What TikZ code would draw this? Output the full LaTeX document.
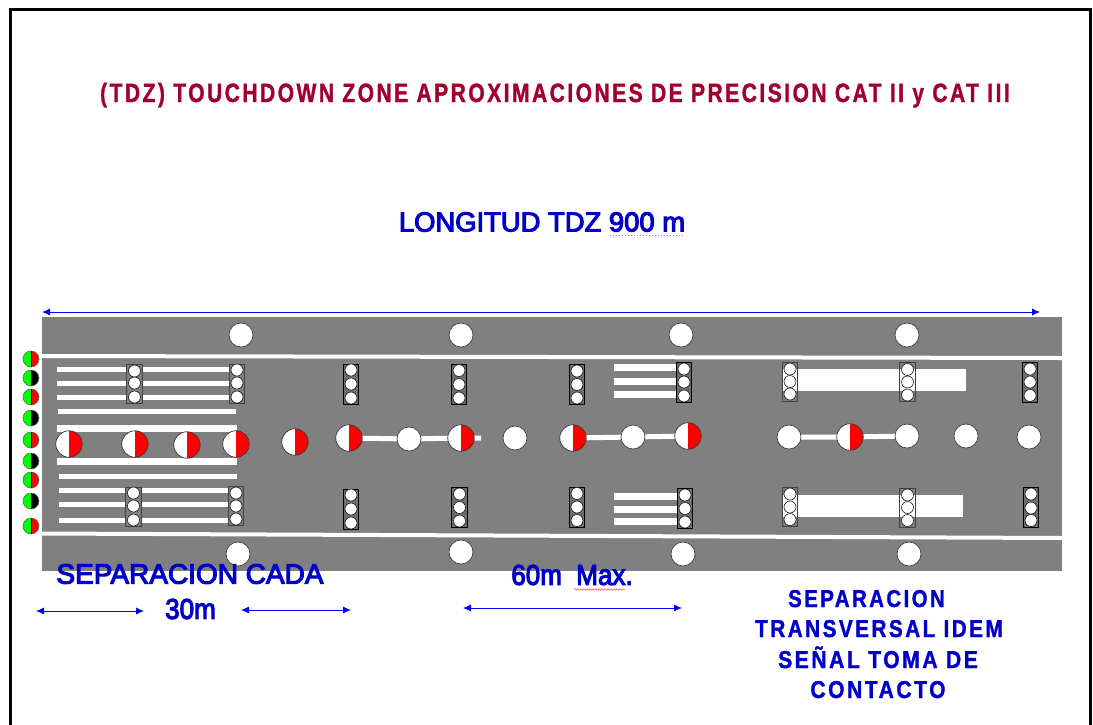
\documentclass[tikz,border=0pt]{standalone}
\usepackage{fontspec}
\setmainfont{Liberation Sans}
\newfontfamily\semib[FakeBold=4]{Liberation Sans}
\newfontfamily\titlef[LetterSpace=12,FakeBold=1.5]{Liberation Sans Bold}
\newfontfamily\sepf[LetterSpace=12,FakeBold=1.5]{Liberation Sans Bold}
\usetikzlibrary{arrows.meta,decorations.pathmorphing}
\definecolor{tdzblue}{HTML}{0000C8}
\definecolor{tdzred}{HTML}{A00030}
\definecolor{rwy}{HTML}{808080}
\tikzset{
  x=1pt,y=-1pt,
  bigw/.style={circle,draw=black!75,line width=.7pt,fill=white,minimum size=24pt,inner sep=0pt},
  halfr/.style={circle,draw=black!80,line width=.7pt,fill=white,minimum size=26.5pt,inner sep=0pt,
    path picture={\fill[red] (path picture bounding box.north) rectangle (path picture bounding box.south east);}},
  leftlamp/.style={circle,draw=black!60,line width=.6pt,minimum size=16pt,inner sep=0pt,fill=green,
    path picture={\fill[#1] (path picture bounding box.north) rectangle (path picture bounding box.south east);
      \draw[black,line width=.5pt] (path picture bounding box.north) -- (path picture bounding box.south);}},
  lamp/.style={circle,draw=black!90,line width=.6pt,fill=white,minimum size=12pt,inner sep=0pt},
  lampbox/.style={draw=black,fill=rwy!85!black,line width=.9pt,minimum width=15.5pt,minimum height=40pt,inner sep=0pt},
  softbox/.style={draw=black!75,fill=rwy,line width=.9pt,minimum width=15.5pt,minimum height=39pt,inner sep=0pt},
  openbox/.style={draw=black!75,line width=.9pt,minimum width=15.5pt,minimum height=39pt,inner sep=0pt},
  stripe/.style={draw=white,line width=#1},
  stripe/.default=5pt,
  dim/.style={draw=blue,line width=.8pt,{Latex[length=8pt,width=7pt]}-{Latex[length=8pt,width=7pt]}},
  lbl/.style={text=tdzblue,inner sep=0pt,anchor=center},
  sepl/.style={text=tdzblue,inner sep=0pt,anchor=base},
}
% triple of lamps: #1 style, #2 name, #3 x, #4 #5 #6 lamp y
\newcommand{\lampset}[6]{%
  \node[#1] (#2) at (#3,{(#4+#6)/2}) {};
  \node[lamp] (#2a) at (#3,#4) {};
  \node[lamp] (#2b) at (#3,#5) {};
  \node[lamp] (#2c) at (#3,#6) {};
}
\begin{document}
\begin{tikzpicture}
\useasboundingbox (0,0) rectangle (1093,724);
\fill[white] (0,0) rectangle (1093,724);
% frame
\draw[black,line width=3pt] (10.5,726) -- (10.5,9.5) -- (1090,9.5) -- (1090,726);
% runway
\fill[rwy] (42,317) rectangle (1062,571);
\draw[white,line width=4pt] (42,356) -- (1062,358);
\draw[white,line width=4pt] (42,533.5) -- (1062,538);
% stripes (threshold)
\foreach \y/\a/\b in {369.5/57/236,383/57/236,397/57/236,411.5/58/236,476/59/237,490/59/237,504/59/237,520/59/237}
  \draw[stripe] (\a,\y) -- (\b,\y);
\foreach \y in {428,461}
  \draw[stripe=7pt] (57,\y) -- (237,\y);
\foreach \y in {367,381,394,496,509,521}
  \draw[stripe=7pt] (614,\y) -- (680,\y);
\fill[white] (783,369) rectangle (966,391);
\fill[white] (783,495) rectangle (963,517);
% edge lights
\foreach \n/\x/\y in {ta/241/335,tb/461/335,tc/681/335,td/907/335,ba/238/554,bb/461/552,bc/683/554,bd/909/554}
  \node[bigw] (\n) at (\x,\y) {};
% center line lights
\foreach \n/\x/\y in {c1/69/444,c2/135/444,c3/187/445,c4/236/444,c5/295/442,c6/349/438,c7/461/438,c8/573/438,c9/688/436,c10/850/437}
  \coordinate (\n) at (\x,\y);
\foreach \n/\x/\y in {w1/409/439,w2/515/438,w3/633/437,w4/789/437,w5/907/436,w6/966/436,w7/1029/437}
  \coordinate (\n) at (\x,\y);
\coordinate (barend) at (481,438);
\draw[stripe] (c6) -- (w1) -- (c7) -- (barend);
\draw[stripe] (c8) -- (w3) -- (c9);
\draw[stripe] (w4) -- (c10) -- (w5);
\foreach \n in {c1,c2,c3,c4,c5,c6,c7,c8,c9,c10}
  \node[halfr] at (\n) {};
\foreach \n in {w1,w2,w3,w4,w5,w6,w7}
  \node[bigw] at (\n) {};
% threshold lamps
\foreach \n/\y/\c in {l1/359/red,l2/378/black,l3/397/red,l4/418/black,l5/440/red,l6/461/black,l7/480/red,l8/501/black,l9/526/red}
  \node[leftlamp=\c] (\n) at (31,\y) {};
% lamp triples
\lampset{softbox}{ua}{134.5}{371}{383}{397}
\lampset{softbox}{ub}{237}{370}{383}{397}
\lampset{lampbox}{uc}{351}{370}{384}{398}
\lampset{lampbox}{ud}{459}{370.5}{384.5}{398}
\lampset{lampbox}{ue}{577}{371}{384.5}{398}
\lampset{lampbox}{uf}{684}{369}{382}{396}
\lampset{openbox}{ug}{790}{369}{381.5}{394}
\lampset{openbox}{uh}{907.5}{369.5}{382}{395}
\lampset{lampbox}{ui}{1030}{369}{382}{395.5}
\lampset{softbox}{da}{133.5}{493}{506}{520}
\lampset{softbox}{db}{236}{493}{506}{519}
\lampset{lampbox}{dc}{351}{495}{509}{523}
\lampset{lampbox}{dd}{459.5}{494}{507.5}{521}
\lampset{lampbox}{de}{577}{493.5}{507}{520.5}
\lampset{lampbox}{df}{685}{495}{508.5}{522}
\lampset{openbox}{dg}{790}{494}{507}{519.5}
\lampset{openbox}{dh}{907.5}{495}{507.5}{520.5}
\lampset{lampbox}{di}{1031}{494}{508}{520.5}
% texts
\node[inner sep=0pt,text=tdzred,anchor=base] (title) at (555,102) {\scalebox{.912}[1.15]{\titlef\fontsize{23}{26}\selectfont (TDZ) TOUCHDOWN ZONE APROXIMACIONES DE PRECISION CAT II y CAT III}};
\node[lbl] (long) at (542,222) {\semib\fontsize{27.4}{30}\selectfont LONGITUD TDZ 900 m};
\node[lbl] (sep) at (190,574) {\semib\fontsize{28}{30}\selectfont SEPARACION CADA};
\node[lbl] (tm) at (190.5,609) {\scalebox{1}[1.1]{\semib\fontsize{26}{30}\selectfont 30m}};
\node[lbl] (max) at (572,575) {\scalebox{1}[1.1]{\semib\fontsize{26}{30}\selectfont 60m\ \ Max.}};
\node[sepl] at (866.5,607) (s1) {\scalebox{.888}[1.06]{\sepf\fontsize{23}{26}\selectfont SEPARACION}};
\node[sepl] at (879,637) (s2) {\scalebox{.90}[1.06]{\sepf\fontsize{23}{26}\selectfont TRANSVERSAL IDEM}};
\node[sepl] at (878,668) (s3) {\scalebox{.918}[1.06]{\sepf\fontsize{23}{26}\selectfont SEÑAL TOMA DE}};
\node[sepl] at (878,698) (s4) {\scalebox{.916}[1.06]{\sepf\fontsize{23}{26}\selectfont CONTACTO}};
% proofing underlines
\coordinate (dot1) at (610,235.5); \coordinate (dot2) at (685,235.5);
\draw[magenta!70,line width=1pt,dotted] (dot1) -- (dot2);
\coordinate (wv1) at (574,589.5); \coordinate (wv2) at (625,589.5);
\draw[red!65,line width=.6pt,decorate,decoration={snake,amplitude=.8pt,segment length=3pt}] (wv1) -- (wv2);
% dimension arrows
\coordinate (a1) at (42,312); \coordinate (a2) at (1040,312);
\draw[dim] (a1) -- (a2);
\coordinate (b1) at (36,611); \coordinate (b2) at (144,611);
\draw[dim] (b1) -- (b2);
\coordinate (b3) at (241,610); \coordinate (b4) at (351,610);
\draw[dim] (b3) -- (b4);
\coordinate (b5) at (463,608); \coordinate (b6) at (682,608);
\draw[dim] (b5) -- (b6);
\end{tikzpicture}
\end{document}
